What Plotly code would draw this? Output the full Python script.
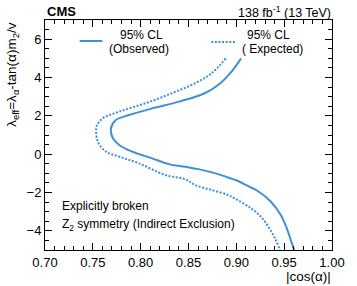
import plotly.graph_objects as go

obs_x = [0.905, 0.895, 0.881, 0.867, 0.840, 0.812, 0.788, 0.774, 0.769, 0.771, 0.7776, 0.7913,
         0.812, 0.8293, 0.8466, 0.8603, 0.8810, 0.8914, 0.9017, 0.9121, 0.9224, 0.9362, 0.9465,
         0.9534, 0.9586, 0.9604]
obs_y = [5.00, 4.31, 3.61, 3.18, 2.74, 2.39, 2.04, 1.78, 1.35, 0.83, 0.48, 0.13,
         -0.22, -0.52, -0.66, -0.78, -1.04, -1.22, -1.40, -1.66, -1.92, -2.48, -3.18,
         -3.96, -4.74, -5.0]

exp_x = [0.889, 0.8741, 0.8569, 0.8327, 0.8052, 0.7776, 0.7603, 0.7545, 0.7535, 0.7552, 0.7638,
         0.7776, 0.7983, 0.8259, 0.8466, 0.8569, 0.8741, 0.8914, 0.8983, 0.9155, 0.9258, 0.9345,
         0.9413, 0.9449, 0.945]
exp_y = [5.0, 4.22, 3.70, 3.18, 2.66, 2.22, 1.87, 1.52, 1.35, 0.65, 0.13,
         -0.13, -0.48, -1.09, -1.31, -1.61, -1.87, -2.13, -2.31, -2.83, -3.27, -3.87,
         -4.48, -4.92, -5.0]

x_ticks = [0.70, 0.75, 0.80, 0.85, 0.90, 0.95, 1.00]
x_ticklabels = ["0.70", "0.75", "0.80", "0.85", "0.90", "0.95", "1.00"]
y_ticks = [-4, -2, 0, 2, 4, 6]
y_ticklabels = ["\u22124", "\u22122", "0", "2", "4", "6"]

BLUE = "#3f90da"
FONT = "Liberation Sans, Arial, sans-serif"
W, H = 357, 286
L, R, T, B = 45, 335, 20, 250


def px(x):
    return (x - L) / (R - L)


def py(y):
    return (B - y) / (B - T)


fig = go.Figure()
fig.add_trace(go.Scatter(x=obs_x, y=obs_y, mode="lines", line=dict(color=BLUE, width=2, shape="spline"),
                         showlegend=False))
fig.add_trace(go.Scatter(x=exp_x, y=exp_y, mode="lines",
                         line=dict(color=BLUE, width=2, dash="2px,1.6px", shape="spline"), showlegend=False))

axis_common = dict(showline=True, linecolor="black", linewidth=1, mirror="allticks", ticks="inside",
                   tickcolor="black", ticklen=7, showgrid=False, zeroline=False,
                   tickfont=dict(family=FONT, size=13, color="black"))

fig.update_xaxes(range=[0.70, 1.00], tickvals=x_ticks, ticktext=x_ticklabels,
                 minor=dict(dtick=0.01, ticks="inside", ticklen=4, tickcolor="black", showgrid=False),
                 **axis_common)
fig.update_yaxes(range=[-5, 7], tickvals=y_ticks, ticktext=y_ticklabels,
                 minor=dict(dtick=0.5, ticks="inside", ticklen=4, tickcolor="black", showgrid=False),
                 **axis_common)

shapes = [
    dict(type="line", xref="paper", yref="paper", x0=px(80), x1=px(103), y0=py(41), y1=py(41),
         line=dict(color=BLUE, width=2)),
    dict(type="line", xref="paper", yref="paper", x0=px(213), x1=px(237), y0=py(42), y1=py(42),
         line=dict(color=BLUE, width=2, dash="2px,1.6px")),
]

ann = []


def txt(text, x, y, xanchor="left", yanchor="middle", size=12, angle=0):
    ann.append(dict(text=text, x=px(x), y=py(y), xref="paper", yref="paper", showarrow=False,
                    xanchor=xanchor, yanchor=yanchor, textangle=angle,
                    font=dict(family=FONT, size=size, color="black")))


txt("<b>CMS</b>", 45, 11, size=13)
txt("138 fb<sup>-1</sup> (13 TeV)", 336, 12, xanchor="right", size=12.5)
txt("95% CL", 143, 35, xanchor="center", size=12)
txt("(Observed)", 140, 49, xanchor="center", size=12)
txt("95% CL", 271, 35, xanchor="center", size=12)
txt("( Expected)", 275, 49, xanchor="center", size=12)
txt("Explicitly broken", 60, 206, size=12)
txt("Z<sub>2</sub> symmetry (Indirect Exclusion)", 60, 225, size=12)
txt("|cos(\u03b1)|", 336, 276, xanchor="right", size=13.5)
ann.append(dict(text="\u03bb<sub>eff</sub>=\u03bb<sub>\u03b1</sub>-tan(\u03b1)m<sub>2</sub>/v",
                x=px(12), y=py(20), xref="paper", yref="paper", showarrow=False,
                xanchor="center", yanchor="top", textangle=-90,
                font=dict(family=FONT, size=13.5, color="black")))

fig.update_layout(width=W, height=H, margin=dict(l=L, r=W - R, t=T, b=H - B),
                  plot_bgcolor="white", paper_bgcolor="white", shapes=shapes, annotations=ann,
                  showlegend=False)

fig.write_html("out.html", config={"displayModeBar": False},
               post_script="document.body.style.margin='0';document.body.style.overflow='hidden';")
